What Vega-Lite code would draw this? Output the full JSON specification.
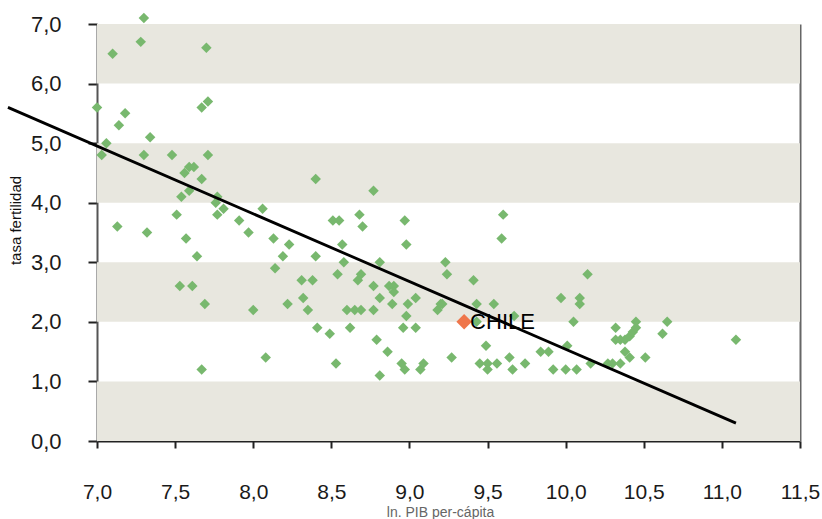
{
  "$schema": "https://vega.github.io/schema/vega-lite/v6.json",
  "width": 703,
  "height": 417,
  "autosize": {"type": "none"},
  "padding": {"left": 97, "top": 24, "right": 22, "bottom": 78},
  "background": "white",
  "config": {
    "view": {"stroke": null},
    "font": "Liberation Sans",
    "axis": {"grid": false, "labelFont": "Liberation Sans", "titleFont": "Liberation Sans"}
  },
  "datasets": {
    "bands": [
      {"lo": 0, "hi": 1},
      {"lo": 2, "hi": 3},
      {"lo": 4, "hi": 5},
      {"lo": 6, "hi": 7}
    ],
    "paises": [
      {"pib": 7.00, "fert": 5.6}, {"pib": 7.03, "fert": 4.8}, {"pib": 7.06, "fert": 5.0}, {"pib": 7.10, "fert": 6.5},
      {"pib": 7.13, "fert": 3.6}, {"pib": 7.14, "fert": 5.3}, {"pib": 7.18, "fert": 5.5}, {"pib": 7.28, "fert": 6.7},
      {"pib": 7.30, "fert": 7.1}, {"pib": 7.30, "fert": 4.8}, {"pib": 7.32, "fert": 3.5}, {"pib": 7.34, "fert": 5.1},
      {"pib": 7.48, "fert": 4.8}, {"pib": 7.51, "fert": 3.8}, {"pib": 7.53, "fert": 2.6}, {"pib": 7.54, "fert": 4.1},
      {"pib": 7.56, "fert": 4.5}, {"pib": 7.57, "fert": 3.4}, {"pib": 7.59, "fert": 4.6}, {"pib": 7.62, "fert": 4.6},
      {"pib": 7.59, "fert": 4.2}, {"pib": 7.61, "fert": 2.6}, {"pib": 7.64, "fert": 3.1}, {"pib": 7.67, "fert": 4.4},
      {"pib": 7.67, "fert": 5.6}, {"pib": 7.67, "fert": 1.2}, {"pib": 7.69, "fert": 2.3}, {"pib": 7.70, "fert": 6.6},
      {"pib": 7.71, "fert": 5.7}, {"pib": 7.71, "fert": 4.8}, {"pib": 7.76, "fert": 4.0}, {"pib": 7.77, "fert": 4.1},
      {"pib": 7.77, "fert": 3.8}, {"pib": 7.81, "fert": 3.9}, {"pib": 7.91, "fert": 3.7}, {"pib": 7.97, "fert": 3.5},
      {"pib": 8.00, "fert": 2.2}, {"pib": 8.06, "fert": 3.9}, {"pib": 8.08, "fert": 1.4}, {"pib": 8.13, "fert": 3.4},
      {"pib": 8.14, "fert": 2.9}, {"pib": 8.19, "fert": 3.1}, {"pib": 8.22, "fert": 2.3}, {"pib": 8.23, "fert": 3.3},
      {"pib": 8.31, "fert": 2.7}, {"pib": 8.32, "fert": 2.4}, {"pib": 8.35, "fert": 2.2}, {"pib": 8.38, "fert": 2.7},
      {"pib": 8.40, "fert": 4.4}, {"pib": 8.40, "fert": 3.1}, {"pib": 8.41, "fert": 1.9}, {"pib": 8.49, "fert": 1.8},
      {"pib": 8.51, "fert": 3.7}, {"pib": 8.55, "fert": 3.7}, {"pib": 8.53, "fert": 1.3}, {"pib": 8.54, "fert": 2.8},
      {"pib": 8.57, "fert": 3.3}, {"pib": 8.58, "fert": 3.0}, {"pib": 8.60, "fert": 2.2}, {"pib": 8.62, "fert": 1.9},
      {"pib": 8.65, "fert": 2.2}, {"pib": 8.67, "fert": 2.7}, {"pib": 8.68, "fert": 3.8}, {"pib": 8.69, "fert": 2.8},
      {"pib": 8.69, "fert": 2.2}, {"pib": 8.70, "fert": 3.6}, {"pib": 8.77, "fert": 4.2}, {"pib": 8.77, "fert": 2.6},
      {"pib": 8.77, "fert": 2.2}, {"pib": 8.79, "fert": 1.7}, {"pib": 8.81, "fert": 3.0}, {"pib": 8.81, "fert": 2.4},
      {"pib": 8.81, "fert": 1.1}, {"pib": 8.86, "fert": 1.5}, {"pib": 8.87, "fert": 2.6}, {"pib": 8.90, "fert": 2.6},
      {"pib": 8.90, "fert": 2.5}, {"pib": 8.89, "fert": 2.3}, {"pib": 8.95, "fert": 1.3}, {"pib": 8.96, "fert": 1.9},
      {"pib": 8.97, "fert": 3.7}, {"pib": 8.97, "fert": 1.2}, {"pib": 8.98, "fert": 3.3}, {"pib": 8.98, "fert": 2.1},
      {"pib": 8.99, "fert": 2.3}, {"pib": 9.04, "fert": 2.4}, {"pib": 9.04, "fert": 1.9}, {"pib": 9.07, "fert": 1.2},
      {"pib": 9.09, "fert": 1.3}, {"pib": 9.18, "fert": 2.2}, {"pib": 9.20, "fert": 2.3}, {"pib": 9.21, "fert": 2.3},
      {"pib": 9.23, "fert": 3.0}, {"pib": 9.24, "fert": 2.8}, {"pib": 9.27, "fert": 1.4}, {"pib": 9.41, "fert": 2.7},
      {"pib": 9.43, "fert": 2.3}, {"pib": 9.43, "fert": 2.0}, {"pib": 9.45, "fert": 1.3}, {"pib": 9.49, "fert": 1.6},
      {"pib": 9.50, "fert": 1.3}, {"pib": 9.50, "fert": 1.2}, {"pib": 9.54, "fert": 2.3}, {"pib": 9.56, "fert": 1.3},
      {"pib": 9.59, "fert": 3.4}, {"pib": 9.60, "fert": 3.8}, {"pib": 9.64, "fert": 1.4}, {"pib": 9.66, "fert": 1.2},
      {"pib": 9.67, "fert": 2.1}, {"pib": 9.74, "fert": 1.3}, {"pib": 9.84, "fert": 1.5}, {"pib": 9.89, "fert": 1.5},
      {"pib": 9.92, "fert": 1.2}, {"pib": 9.97, "fert": 2.4}, {"pib": 10.00, "fert": 1.2}, {"pib": 10.01, "fert": 1.6},
      {"pib": 10.05, "fert": 2.0}, {"pib": 10.07, "fert": 1.2}, {"pib": 10.09, "fert": 2.4}, {"pib": 10.09, "fert": 2.3},
      {"pib": 10.14, "fert": 2.8}, {"pib": 10.16, "fert": 1.3}, {"pib": 10.27, "fert": 1.3}, {"pib": 10.30, "fert": 1.3},
      {"pib": 10.32, "fert": 1.9}, {"pib": 10.32, "fert": 1.7}, {"pib": 10.35, "fert": 1.7}, {"pib": 10.35, "fert": 1.3},
      {"pib": 10.38, "fert": 1.7}, {"pib": 10.38, "fert": 1.5}, {"pib": 10.41, "fert": 1.76}, {"pib": 10.41, "fert": 1.4},
      {"pib": 10.43, "fert": 1.83}, {"pib": 10.45, "fert": 1.9}, {"pib": 10.45, "fert": 2.0}, {"pib": 10.51, "fert": 1.4},
      {"pib": 10.62, "fert": 1.8}, {"pib": 10.65, "fert": 2.0}, {"pib": 11.09, "fert": 1.7}
    ],
    "chile": [{"pib": 9.35, "fert": 2.0, "pais": "CHILE"}],
    "tendencia": [{"pib": 6.43, "fert": 5.6}, {"pib": 11.09, "fert": 0.3}]
  },
  "resolve": {"axis": {"x": "independent", "y": "independent"}},
  "layer": [
    {
      "data": {"name": "bands"},
      "mark": {"type": "rect", "color": "#e8e7df"},
      "encoding": {
        "x": {"datum": 7, "type": "quantitative", "scale": {"domain": [7, 11.5], "nice": false, "zero": false}, "axis": null},
        "x2": {"datum": 11.5},
        "y": {"field": "lo", "type": "quantitative", "scale": {"domain": [0, 7], "nice": false},
          "axis": {"orient": "right", "labels": false, "ticks": false, "title": null, "domainColor": "#666", "domainWidth": 2}},
        "y2": {"field": "hi"}
      }
    },
    {
      "data": {"name": "paises"},
      "mark": {"type": "point", "shape": "diamond", "filled": true, "color": "#78b86e", "size": 110, "opacity": 1},
      "encoding": {
        "x": {"field": "pib", "type": "quantitative",
          "axis": {
            "orient": "bottom",
            "values": [7, 7.5, 8, 8.5, 9, 9.5, 10, 10.5, 11, 11.5],
            "labelExpr": "replace(format(datum.value, '.1f'), '.', ',')",
            "labelFlush": false, "labelOverlap": false,
            "labelFontSize": 21, "labelColor": "#1a1a1a", "labelPadding": 33,
            "tickSize": 7, "tickWidth": 2, "tickColor": "#222",
            "domainColor": "#222", "domainWidth": 2,
            "title": "ln. PIB per-cápita", "titleFontSize": 14, "titleFontWeight": "normal", "titleColor": "#666",
            "titleX": 343, "titleY": 71, "titleBaseline": "middle"
          }},
        "y": {"field": "fert", "type": "quantitative",
          "axis": {
            "orient": "left",
            "values": [0, 1, 2, 3, 4, 5, 6, 7],
            "labelExpr": "replace(format(datum.value, '.1f'), '.', ',')",
            "labelFlush": false, "labelOverlap": false,
            "labelFontSize": 22, "labelColor": "#1a1a1a", "labelPadding": 27,
            "tickSize": 9, "tickWidth": 2, "tickColor": "#222",
            "domainColor": "#555", "domainWidth": 2,
            "title": "tasa fertilidad", "titleFontSize": 15, "titleFontWeight": "normal", "titleColor": "#111",
            "titleX": -82, "titleY": 196, "titleAngle": -90, "titleAlign": "center", "titleBaseline": "middle"
          }}
      }
    },
    {
      "data": {"name": "tendencia"},
      "mark": {"type": "line", "color": "black", "strokeWidth": 2.8, "clip": false},
      "encoding": {
        "x": {"field": "pib", "type": "quantitative", "axis": null},
        "y": {"field": "fert", "type": "quantitative", "axis": null}
      }
    },
    {
      "data": {"name": "chile"},
      "mark": {"type": "point", "shape": "diamond", "filled": true, "color": "#ef764b", "size": 240, "opacity": 1},
      "encoding": {
        "x": {"field": "pib", "type": "quantitative", "axis": null},
        "y": {"field": "fert", "type": "quantitative", "axis": null}
      }
    },
    {
      "data": {"name": "chile"},
      "mark": {"type": "text", "align": "left", "baseline": "middle", "dx": 6, "fontSize": 22, "color": "black"},
      "encoding": {
        "x": {"field": "pib", "type": "quantitative", "axis": null},
        "y": {"field": "fert", "type": "quantitative", "axis": null},
        "text": {"field": "pais"}
      }
    }
  ]
}
